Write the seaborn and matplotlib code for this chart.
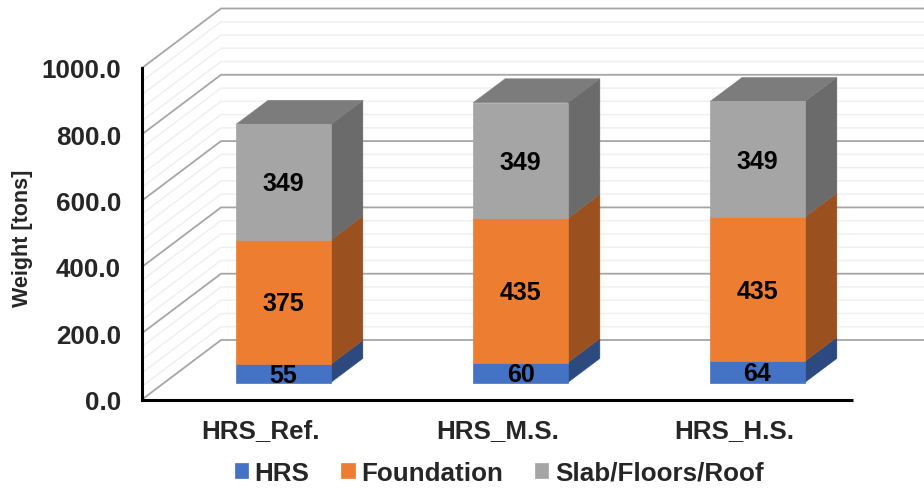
import matplotlib
matplotlib.use("Agg")
import matplotlib.pyplot as plt
import numpy as np
import seaborn as sns
from matplotlib.patches import Polygon
from matplotlib.transforms import Affine2D

# Values
categories = ["HRS_Ref.", "HRS_M.S.", "HRS_H.S."]
hrs = [55, 60, 64]
foundation = [375, 435, 435]
slab = [349, 349, 349]
y_ticks = [0, 200, 400, 600, 800, 1000]
minor_step = 40

series = [
    ("HRS", hrs, "#4472C4", "#2C4A80", None),
    ("Foundation", foundation, "#ED7D31", "#9A511F", None),
    ("Slab/Floors/Roof", slab, "#A5A5A5", "#6B6B6B", "#7C7C7C"),
]

sns.set_style("white")
plt.rcParams["font.family"] = ["Liberation Sans", "DejaVu Sans"]
plt.rcParams["font.weight"] = "bold"

W, H = 924, 489
fig = plt.figure(figsize=(W / 100, H / 100), dpi=100)
ax = fig.add_axes([142 / W, (H - 400.5) / H, 711 / W, 331.5 / H])
ax.patch.set_alpha(0)

# pixel scale of the front plane
px_x = 711 / 3
px_y = 331.5 / 1000

# bars sit part way into the floor, so shift them in pixels
bar_shift = Affine2D().translate(23, 17)
bar_trans = ax.transData + bar_shift

bottom = np.zeros(len(categories))
for name, values, color, side, top in series:
    sns.barplot(x=categories, y=values, bottom=bottom, color=color, saturation=1,
                width=0.4, label=name, ax=ax, transform=bar_trans, zorder=3,
                edgecolor=color, linewidth=0.5)
    bar_patches = ax.containers[-1].patches
    for patch, value, base in zip(bar_patches, values, bottom):
        x0 = patch.get_x()
        x1 = x0 + patch.get_width()
        y0 = patch.get_y()
        y1 = y0 + patch.get_height()
        ddx = 32 / px_x
        ddy = 24 / px_y
        ax.add_patch(Polygon([(x1, y0), (x1 + ddx, y0 + ddy), (x1 + ddx, y1 + ddy), (x1, y1)],
                             closed=True, facecolor=side, edgecolor=side, linewidth=0.3,
                             transform=bar_trans, zorder=2.5, clip_on=False))
        if top is not None:
            ax.add_patch(Polygon([(x0, y1), (x0 + ddx, y1 + ddy), (x1 + ddx, y1 + ddy), (x1, y1)],
                                 closed=True, facecolor=top, edgecolor=top, linewidth=0.3,
                                 transform=bar_trans, zorder=2.5, clip_on=False))
        ax.text(x0 + patch.get_width() / 2, base + value / 2 - 4, str(value), ha="center", va="center",
                fontsize=18, fontweight="bold", color="black", transform=bar_trans, zorder=5)
    bottom = bottom + np.array(values)

ax.set_xlim(-0.5, 2.5)
ax.set_ylim(0, 1000)

# back wall and left wall grid
wall_dx = 79 / px_x
wall_dy = 59.5 / px_y
x_left = -0.5
x_end = 2.5 + (924 - 853) / px_x
for v in np.arange(0, 1000 + minor_step, minor_step):
    is_major = v in y_ticks
    ax.plot([x_left, x_left + wall_dx, x_end], [v, v + wall_dy, v + wall_dy],
            color="#A6A6A6" if is_major else "#F0F0F0", lw=1.3 if is_major else 1.1,
            clip_on=False, zorder=1.5 if is_major else 1, solid_joinstyle="miter")

for name in ["top", "right"]:
    ax.spines[name].set_visible(False)
for name in ["left", "bottom"]:
    ax.spines[name].set_color("black")
    ax.spines[name].set_linewidth(2.2)
    ax.spines[name].set_zorder(6)
ax.spines["bottom"].set_capstyle("butt")

ax.set_yticks(y_ticks)
ax.set_yticklabels([f"{t:.1f}" for t in y_ticks], fontsize=18.7, fontweight="bold")
ax.set_xticks(range(len(categories)))
ax.set_xticklabels(categories, fontsize=18.7, fontweight="bold")
ax.tick_params(axis="y", length=0, pad=15)
ax.tick_params(axis="x", length=0, pad=13)
ax.set_xlabel("")
ax.set_ylabel("Weight [tons]", fontsize=15.5, fontweight="bold", labelpad=6)
ax.yaxis.set_label_coords(-0.153, 0.49)

handles, labels = ax.get_legend_handles_labels()
ax.legend(handles, labels, ncol=3, frameon=False, loc="center", bbox_to_anchor=(499 / W, 15 / H),
          bbox_transform=fig.transFigure, fontsize=18.7, handlelength=0.52, handleheight=0.52,
          handletextpad=0.25, columnspacing=1.22, borderpad=0, borderaxespad=0)

fig.savefig("out.png", dpi=100, facecolor="white")
